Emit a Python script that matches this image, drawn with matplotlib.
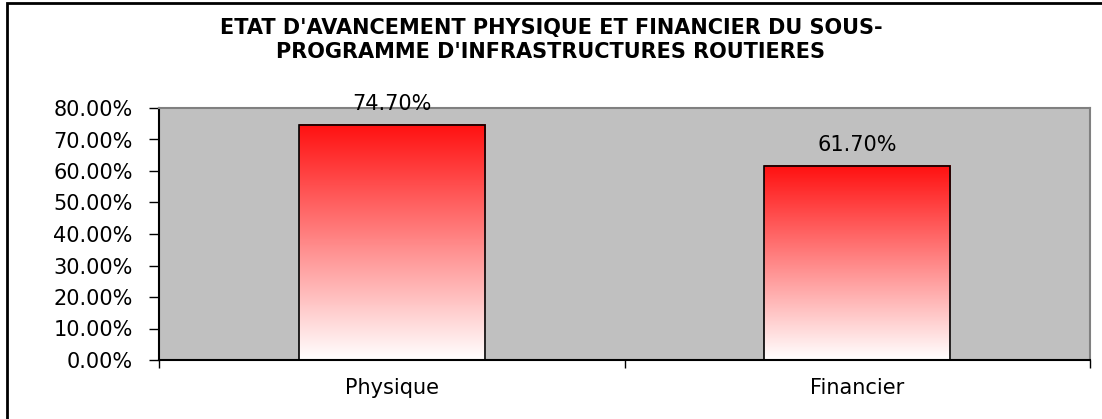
import matplotlib
matplotlib.use("Agg")
import matplotlib.pyplot as plt
import numpy as np
from matplotlib.colors import LinearSegmentedColormap
from matplotlib.patches import Rectangle

# data
categories = ["Physique", "Financier"]
values = [0.747, 0.617]
value_labels = ["74.70%", "61.70%"]
yticks = [0.0, 0.1, 0.2, 0.3, 0.4, 0.5, 0.6, 0.7, 0.8]

plt.rcParams['font.family'] = ['DejaVu Sans']

W, H = 1102, 419
fig = plt.figure(figsize=(W / 100, H / 100), dpi=100)

# outer chart border (runs off the right / bottom edge like the original)
fig.patches.append(Rectangle((7 / W, 0 - 0.05), 1.2, (H - 3) / H + 0.05,
                             transform=fig.transFigure, fill=False,
                             edgecolor='black', linewidth=2))

ax = fig.add_axes([159 / W, (H - 360) / H, (1090 - 159) / W, (360 - 108) / H])
ax.set_facecolor('#c0c0c0')
ax.set_xlim(-0.5, 1.5)
ax.set_ylim(0, 0.8)

# red -> white vertical gradient inside each bar
cmap = LinearSegmentedColormap.from_list("redwhite", ["#ffffff", "#ff1010"])
grad = np.linspace(0, 1, 256).reshape(-1, 1)
bar_w = 0.4
bars = ax.bar(range(len(categories)), values, width=bar_w, color='none',
              edgecolor='black', linewidth=1.2, zorder=3)
for b in bars:
    x0, y0 = b.get_x(), b.get_y()
    ax.imshow(grad, cmap=cmap, origin='lower', aspect='auto',
              extent=[x0, x0 + b.get_width(), y0, y0 + b.get_height()],
              zorder=2)

for i, (v, lab) in enumerate(zip(values, value_labels)):
    ax.text(i, v + 0.065, lab, ha='center', va='center', fontsize=15,
            clip_on=False, zorder=4)

ax.set_yticks(yticks)
ax.set_yticklabels([f"{t * 100:.2f}%" for t in yticks], fontsize=15)
ax.set_xticks([0, 1])
ax.set_xticklabels(categories, fontsize=15)
ax.set_xticks([-0.5, 0.5, 1.5], minor=True)
ax.tick_params(axis='x', which='major', length=0, pad=13)
ax.tick_params(axis='x', which='minor', length=6, width=1, direction='out')
ax.tick_params(axis='y', length=7, width=1, direction='out', pad=12)

for s in ['top', 'right']:
    ax.spines[s].set_color('#808080')
    ax.spines[s].set_linewidth(1.5)
for s in ['left', 'bottom']:
    ax.spines[s].set_color('black')
    ax.spines[s].set_linewidth(1.5)

fig.text(551 / W, 1 - 40 / H,
         "ETAT D'AVANCEMENT PHYSIQUE ET FINANCIER DU SOUS-\nPROGRAMME D'INFRASTRUCTURES ROUTIERES",
         ha='center', va='center', fontsize=15, fontweight='bold',
         linespacing=1.2)

fig.savefig("out.png", dpi=100)
